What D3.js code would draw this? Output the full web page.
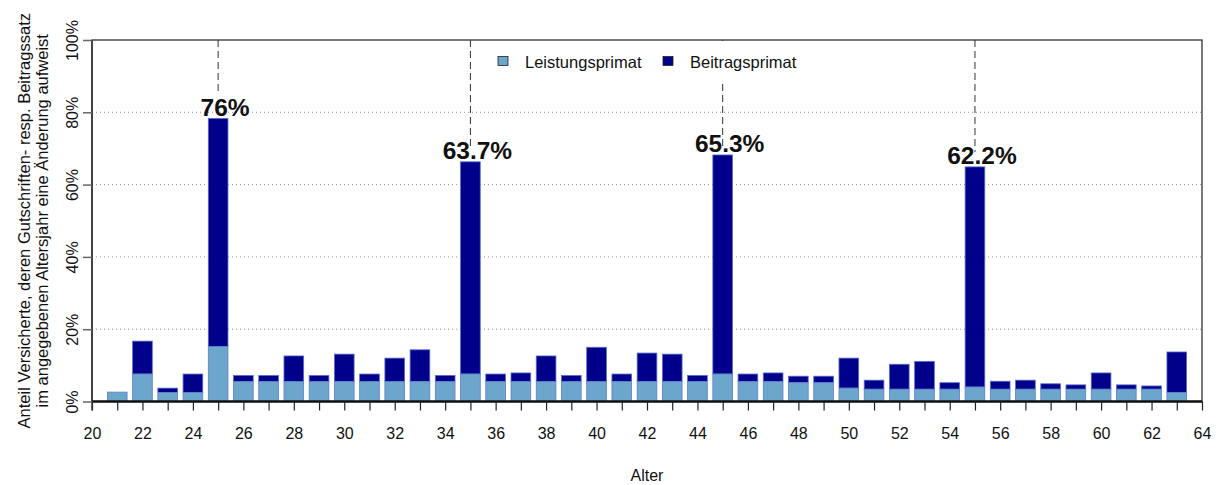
<!DOCTYPE html>
<html>
<head>
<meta charset="utf-8">
<script src="https://cdn.jsdelivr.net/npm/d3@7"></script>
<style>
body{margin:0;background:#fff;}
svg text{font-family:"Liberation Sans",Arial,sans-serif;fill:#111;}
</style>
</head>
<body>
<svg id="chart" width="1219" height="485"></svg>
<script>
// Alter 21..63
var alter = d3.range(21, 64);
// Leistungsprimat (unterer Teil), in %
var leistung = [2.6,7.6,2.5,2.5,15.2,5.5,5.5,5.5,5.5,5.5,5.5,5.5,5.5,5.5,
  7.6,5.5,5.5,5.5,5.5,5.5,5.5,5.5,5.5,5.5,7.6,5.5,5.5,5.2,5.2,
  3.7,3.4,3.4,3.4,3.4,4.0,3.4,3.4,3.4,3.4,3.4,3.4,3.4,2.5];
// Gesamt (Leistungsprimat + Beitragsprimat), in %
var gesamt = [2.6,16.7,3.7,7.6,78.3,7.2,7.2,12.6,7.2,13.1,7.6,12.0,14.3,7.2,
  66.3,7.6,7.9,12.6,7.2,15.0,7.6,13.4,13.1,7.2,68.2,7.6,7.9,7.0,7.0,
  12.0,5.9,10.3,11.1,5.2,64.9,5.6,5.9,4.9,4.6,7.9,4.6,4.3,13.7];
var markAlter = [25, 35, 45, 55];
var markLabel = ["76%", "63.7%", "65.3%", "62.2%"];
var yTicks = [0, 20, 40, 60, 80, 100];

var colLeistung = "#6ca6cd", colBeitrag = "#00008b";

var svg = d3.select("#chart");
var pLeft = 92, pRight = 1202, pTop = 40, pBottom = 401.5;

var x = d3.scaleLinear().domain([20, 64]).range([pLeft, pRight]);
var y = d3.scaleLinear().domain([0, 100]).range([pBottom, pTop]);
var bw = 0.78 * (x(1) - x(0));

// gridlines
svg.append("g").selectAll("line")
  .data([20, 40, 60, 80]).enter().append("line")
  .attr("x1", pLeft).attr("x2", pRight)
  .attr("y1", function(d){ return y(d); }).attr("y2", function(d){ return y(d); })
  .attr("stroke", "#8a93b0").attr("stroke-width", 1).attr("stroke-dasharray", "1,3");

// frame
svg.append("rect").attr("x", pLeft).attr("y", pTop)
  .attr("width", pRight - pLeft).attr("height", pBottom - pTop)
  .attr("fill", "none").attr("stroke", "#222").attr("stroke-width", 1.2);

// dashed markers
var dashTo = {25: 95, 35: 147, 45: 150, 55: 152};
svg.append("g").selectAll("line")
  .data(markAlter).enter().append("line")
  .attr("x1", function(d){ return x(d); }).attr("x2", function(d){ return x(d); })
  .attr("y1", pTop).attr("y2", function(d){ return dashTo[d]; })
  .attr("stroke", "#333").attr("stroke-width", 1).attr("stroke-dasharray", "7,4");

// bars
var bars = svg.append("g");
bars.selectAll("rect.b").data(alter).enter().append("rect")
  .attr("class", "b")
  .attr("x", function(d){ return x(d) - bw/2; })
  .attr("width", bw)
  .attr("y", function(d, i){ return y(gesamt[i]); })
  .attr("height", function(d, i){ return y(leistung[i]) - y(gesamt[i]); })
  .attr("fill", colBeitrag).attr("stroke", "#5a6ccf").attr("stroke-width", 0.8);
bars.selectAll("rect.l").data(alter).enter().append("rect")
  .attr("class", "l")
  .attr("x", function(d){ return x(d) - bw/2; })
  .attr("width", bw)
  .attr("y", function(d, i){ return y(leistung[i]); })
  .attr("height", function(d, i){ return pBottom - y(leistung[i]); })
  .attr("fill", colLeistung).attr("stroke", "#5a7fc8").attr("stroke-width", 0.8);

// legend (white box over the line at 45)
var lg = svg.append("g");
lg.append("rect").attr("x", 486).attr("y", 41).attr("width", 322).attr("height", 40).attr("fill", "#fff");
var legItems = [["Leistungsprimat", colLeistung, 498], ["Beitragsprimat", colBeitrag, 663]];
legItems.forEach(function(it){
  lg.append("rect").attr("x", it[2]).attr("y", 56.5).attr("width", 10).attr("height", 9)
    .attr("fill", it[1]).attr("stroke", "#222").attr("stroke-width", 0.8);
  lg.append("text").attr("x", it[2] + 27).attr("y", 67.5).attr("font-size", 16.5).text(it[0]);
});

// labels for the big bars
svg.append("g").selectAll("text")
  .data(markAlter).enter().append("text")
  .attr("x", function(d){ return x(d) + 7; })
  .attr("y", function(d){ return y(gesamt[alter.indexOf(d)]) - 2.5; })
  .attr("text-anchor", "middle")
  .attr("font-size", 24.5).attr("font-weight", "bold")
  .text(function(d, i){ return markLabel[i]; });

// x axis
var xAxis = d3.axisBottom(x).tickValues(d3.range(20, 65)).tickSize(9).tickPadding(17)
  .tickFormat(function(d){ return d % 2 === 0 ? d : ""; });
var gx = svg.append("g").attr("transform", "translate(0," + pBottom + ")").call(xAxis);
gx.attr("font-size", null).attr("font-family", null);
gx.select(".domain").attr("stroke", "#111").attr("stroke-width", 2.5).attr("d", "M" + pLeft + ",0H" + pRight);
gx.selectAll(".tick line").attr("stroke", "#222").attr("stroke-width", 1.2);
gx.selectAll(".tick text").attr("font-size", 16).attr("fill", "#111");

// y axis
var yAxis = d3.axisLeft(y).tickValues(yTicks).tickSize(9).tickFormat(function(d){ return d + "%"; });
var gy = svg.append("g").attr("transform", "translate(" + pLeft + ",0)").call(yAxis);
gy.attr("font-size", null).attr("font-family", null);
gy.select(".domain").attr("stroke", "#333").attr("stroke-width", 1.5).attr("d", "M0," + pTop + "V" + (pBottom + 9));
gy.selectAll(".tick line").attr("stroke", "#666").attr("stroke-width", 1.5);
gy.selectAll(".tick text").attr("font-size", 16).attr("fill", "#111")
  .attr("transform", "rotate(-90)")
  .attr("x", 0).attr("y", -14).attr("dy", 0)
  .attr("text-anchor", "middle");

// axis titles
svg.append("text").attr("x", x(42)).attr("y", 481).attr("text-anchor", "middle")
  .attr("font-size", 16).text("Alter");
var yt = svg.append("text").attr("transform", "translate(0," + ((pTop + pBottom)/2) + ") rotate(-90)")
  .attr("text-anchor", "middle").attr("font-size", 16.5);
yt.append("tspan").attr("x", 0).attr("y", 30).text("Anteil Versicherte, deren Gutschriften- resp. Beitragssatz");
yt.append("tspan").attr("x", 0).attr("y", 48).text("im angegebenen Altersjahr eine Änderung aufweist");
</script>
</body>
</html>
